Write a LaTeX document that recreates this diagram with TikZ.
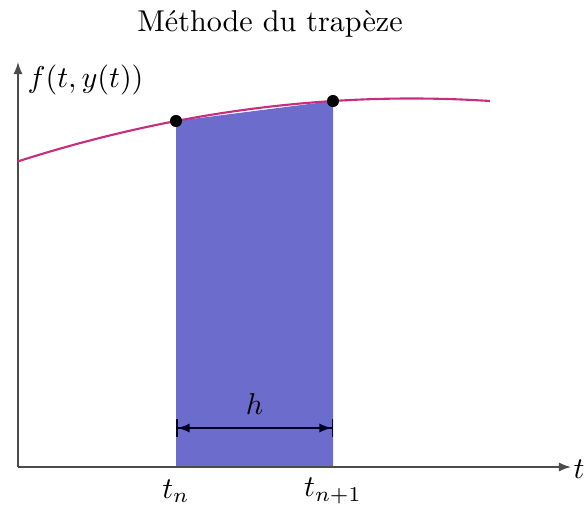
\documentclass[tikz,border=0pt]{standalone}
\usetikzlibrary{arrows.meta}
\definecolor{trapfill}{RGB}{108,108,205}
\definecolor{curvecol}{RGB}{200,45,125}
\begin{document}
\begin{tikzpicture}[x=0.332pt,y=-0.332pt,
  axis/.style={draw=black!70,line width=0.5pt,-{Latex[length=4pt,width=3pt]}},
  dot/.style={circle,fill=black,inner sep=0pt,minimum size=4pt},
  dim/.style={line width=0.5pt,{Bar[width=6pt]Latex[length=4pt,width=3pt]}-{Latex[length=4pt,width=3pt]Bar[width=6pt]}}]
\useasboundingbox (0,0) rectangle (585,515);
\node (title) at (270,24) {Méthode du trapèze};
\coordinate (O) at (18,467);
\coordinate (ytop) at (18,62);
\coordinate (xend) at (571,467);
\coordinate (A) at (176,121);
\coordinate (B) at (333,101);
\coordinate (An) at (176,467);
\coordinate (Bn) at (333,467);
\fill[trapfill] (An) -- (A) -- (B) -- (Bn) -- cycle;
\draw[axis] (O) -- (ytop);
\draw[axis] (O) -- (xend);
\draw[curvecol,line width=0.7pt] plot[domain=-3.935:0.785,samples=60,smooth] ({411.5+100*\x},{98.5+4.06*\x*\x});
\node[dot] (pA) at (A) {};
\node[dot] (pB) at (B) {};
\coordinate (hA) at (176,428);
\coordinate (hB) at (333,428);
\draw[dim,draw=black!85!blue] (hA) -- node[above=1pt] (hlab) {$h$} (hB);
\node[anchor=west] (ylab) at (17,80) {$f(t,y(t))$};
\node[anchor=west,inner sep=1pt] (tlab) at (570,469) {$t$};
\node (tn) at (176,491) {$t_n$};
\node (tn1) at (333,491) {$t_{n+1}$};
\end{tikzpicture}
\end{document}
